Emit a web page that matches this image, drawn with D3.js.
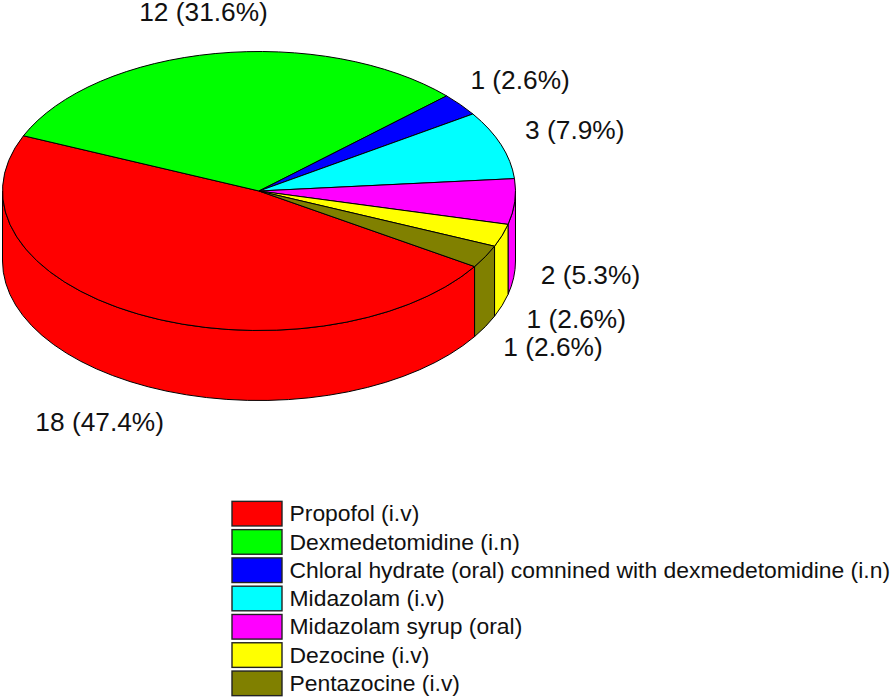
<!DOCTYPE html>
<html>
<head>
<meta charset="utf-8">
<style>
body { margin: 0; background: #fff; }
svg { display: block; }
text { font-family: "Liberation Sans", Arial, sans-serif; fill: #111; }
</style>
<script src="https://cdn.jsdelivr.net/npm/d3@7"></script>
</head>
<body>
<script>
//chart data
var categories = [
    "Propofol (i.v)",
    "Dexmedetomidine (i.n)",
    "Chloral hydrate (oral) comnined with dexmedetomidine (i.n)",
    "Midazolam (i.v)",
    "Midazolam syrup (oral)",
    "Dezocine (i.v)",
    "Pentazocine (i.v)"
];
var counts = [18, 12, 1, 3, 2, 1, 1];
var percents = ["47.4", "31.6", "2.6", "7.9", "5.3", "2.6", "2.6"];
var colors = ["#ff0000", "#00ff00", "#0000ff", "#00ffff", "#ff00ff", "#ffff00", "#808000"];

//SVG dimension variables
var w = 894, h = 699;

//pie geometry
var cx = 259, cy = 191, rx = 256.5, ry = 139.5, depth = 70;
var startDeg = 122.8; //where the first slice starts, clockwise from 12 o'clock

//label offsets from the rim at the middle of each slice
var labelNudge = [[-103, 117], [-76, -33], [10, -16], [24, -6], [26, 82], [24.5, 93], [18, 99.5]];

var container = d3.select("body")
    .append("svg")
    .attr("width", w)
    .attr("height", h);

var a0 = startDeg * Math.PI / 180;
var pie = d3.pie().sort(null).startAngle(a0).endAngle(a0 + 2 * Math.PI);
var slices = pie(counts);

//point on the top rim for a pie angle
function rim(a) {
    return [cx + rx * Math.sin(a), cy - ry * Math.cos(a)];
}

//side wall of a slice, only the part facing the viewer (3 to 9 o'clock)
function wallPath(d) {
    var walls = [];
    [0, 2 * Math.PI].forEach(function(turn) {
        var a = Math.max(d.startAngle, Math.PI / 2 + turn);
        var b = Math.min(d.endAngle, 3 * Math.PI / 2 + turn);
        if (b <= a) return;
        var p = rim(a), q = rim(b);
        walls.push("M" + p + "A" + rx + "," + ry + " 0 0 1 " + q
            + "L" + q[0] + "," + (q[1] + depth)
            + "A" + rx + "," + ry + " 0 0 0 " + p[0] + "," + (p[1] + depth) + "Z");
    });
    return walls.join("");
}

//side walls
container.append("g")
    .selectAll("path")
    .data(slices)
    .enter()
    .append("path")
    .attr("d", wallPath)
    .style("fill", function(d, i){ return colors[i]; })
    .style("stroke", "#000")
    .style("stroke-width", 1);

//top face, a normal d3 arc squashed into an ellipse
var arc = d3.arc().innerRadius(0).outerRadius(rx);

container.append("g")
    .attr("transform", "translate(" + cx + "," + cy + ") scale(1," + (ry / rx) + ")")
    .selectAll("path")
    .data(slices)
    .enter()
    .append("path")
    .attr("d", arc)
    .attr("vector-effect", "non-scaling-stroke")
    .style("fill", function(d, i){ return colors[i]; })
    .style("stroke", "#000")
    .style("stroke-width", 1);

//value labels
container.append("g")
    .selectAll("text")
    .data(slices)
    .enter()
    .append("text")
    .attr("x", function(d, i){ return rim((d.startAngle + d.endAngle) / 2)[0] + labelNudge[i][0]; })
    .attr("y", function(d, i){ return rim((d.startAngle + d.endAngle) / 2)[1] + labelNudge[i][1]; })
    .style("font-size", "26.3px")
    .text(function(d, i){ return counts[i] + " (" + percents[i] + "%)"; });

//legend
var legendY = d3.scaleBand()
    .domain(categories)
    .range([500.5, 696.5])
    .paddingInner(0.13)
    .paddingOuter(0.03);

var legend = container.append("g")
    .selectAll("g")
    .data(categories)
    .enter()
    .append("g")
    .attr("transform", function(d){ return "translate(0," + legendY(d) + ")"; });

legend.append("rect")
    .attr("x", 232)
    .attr("width", 50)
    .attr("height", legendY.bandwidth())
    .style("fill", function(d, i){ return colors[i]; })
    .style("stroke", "#222")
    .style("stroke-width", 1.4);

legend.append("text")
    .attr("x", 289.5)
    .attr("y", 20)
    .style("font-size", "22.9px")
    .text(function(d){ return d; });
</script>
</body>
</html>
